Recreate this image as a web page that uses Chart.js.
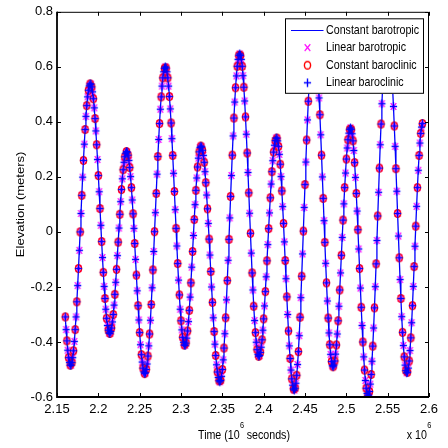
<!DOCTYPE html>
<html>
<head>
<meta charset="utf-8">
<title>Elevation</title>
<script src="https://cdn.jsdelivr.net/npm/chart.js@4.4.1/dist/chart.umd.min.js"></script>
<style>
  html, body { margin: 0; padding: 0; background: #fff; }
  #wrap { width: 448px; height: 448px; }
</style>
</head>
<body>
<div id="wrap"><canvas id="elevChart" width="448" height="448"></canvas></div>
<script>
// water level at the station, one sample every 1000 s from t = 2.160e6 s
const timeStart = 2.160;  // x 10^6 s
const timeStep = 0.001;   // x 10^6 s
const elevation = [
  -0.309, -0.355, -0.396, -0.430, -0.457, -0.475, -0.484,
  -0.484, -0.475, -0.457, -0.432, -0.398, -0.355, -0.309, -0.254, -0.195, -0.133, -0.067, 0.000,
  0.067, 0.133, 0.199, 0.260, 0.319, 0.372, 0.420, 0.459, 0.491, 0.515, 0.531, 0.538,
  0.537, 0.527, 0.509, 0.484, 0.451, 0.412, 0.367, 0.317, 0.263, 0.205, 0.146, 0.085,
  0.024, -0.035, -0.093, -0.147, -0.198, -0.242, -0.281, -0.314, -0.340, -0.357, -0.367,
  -0.369, -0.362, -0.349, -0.327, -0.300, -0.266, -0.227, -0.183, -0.136, -0.086, -0.037,
  0.014, 0.064, 0.110, 0.154, 0.193, 0.226, 0.253, 0.273, 0.286, 0.292,
  0.290, 0.279, 0.260, 0.234, 0.201, 0.161, 0.116, 0.066, 0.013, -0.042, -0.100,
  -0.157, -0.214, -0.268, -0.320, -0.366, -0.410, -0.446, -0.473, -0.495, -0.509, -0.515,
  -0.512, -0.500, -0.480, -0.451, -0.414, -0.371, -0.321, -0.264, -0.203, -0.138, -0.071, 0.001,
  0.070, 0.140, 0.210, 0.274, 0.336, 0.394, 0.446, 0.491, 0.530, 0.560, 0.582, 0.595, 0.600,
  0.596, 0.582, 0.560, 0.530, 0.492, 0.447, 0.396, 0.339, 0.278, 0.213, 0.147, 0.081,
  0.013, -0.051, -0.115, -0.175, -0.229, -0.281, -0.323, -0.356, -0.383, -0.401, -0.411,
  -0.412, -0.404, -0.386, -0.360, -0.326, -0.285, -0.237, -0.185, -0.128, -0.071,
  -0.013, 0.045, 0.099, 0.151, 0.196, 0.236, 0.268, 0.291, 0.307, 0.312,
  0.309, 0.297, 0.278, 0.253, 0.219, 0.179, 0.134, 0.084, 0.031, -0.026, -0.084, -0.144,
  -0.200, -0.256, -0.312, -0.362, -0.408, -0.449, -0.483, -0.509, -0.529, -0.541, -0.545,
  -0.540, -0.525, -0.500, -0.465, -0.422, -0.370, -0.312, -0.247, -0.177, -0.103, -0.027, 0.051,
  0.129, 0.205, 0.279, 0.349, 0.414, 0.472, 0.524, 0.567, 0.602, 0.627, 0.642, 0.647,
  0.642, 0.627, 0.602, 0.568, 0.526, 0.476, 0.418, 0.355, 0.287, 0.216, 0.142, 0.068,
  -0.005, -0.077, -0.149, -0.211, -0.270, -0.322, -0.366, -0.401, -0.428, -0.445, -0.452,
  -0.449, -0.438, -0.419, -0.392, -0.357, -0.316, -0.269, -0.217, -0.163, -0.105, -0.046,
  0.012, 0.069, 0.124, 0.174, 0.219, 0.259, 0.290, 0.315, 0.332, 0.341,
  0.341, 0.331, 0.311, 0.282, 0.246, 0.201, 0.149, 0.092, 0.031, -0.036, -0.104,
  -0.170, -0.236, -0.300, -0.360, -0.414, -0.460, -0.502, -0.534, -0.557, -0.571, -0.575,
  -0.568, -0.550, -0.521, -0.482, -0.435, -0.377, -0.310, -0.239, -0.161, -0.080, 0.003,
  0.089, 0.172, 0.254, 0.334, 0.407, 0.475, 0.537, 0.592, 0.632, 0.666, 0.687, 0.699,
  0.699, 0.688, 0.667, 0.635, 0.594, 0.546, 0.487, 0.426, 0.353, 0.279, 0.200, 0.122,
  0.041, -0.038, -0.114, -0.185, -0.251, -0.313, -0.367, -0.410, -0.445, -0.471, -0.486,
  -0.490, -0.484, -0.469, -0.444, -0.411, -0.371, -0.323, -0.270, -0.211, -0.149, -0.085,
  -0.020, 0.043, 0.102, 0.161, 0.214, 0.265, 0.305, 0.335, 0.359, 0.373, 0.378,
  0.373, 0.357, 0.331, 0.296, 0.252, 0.198, 0.140, 0.076, 0.008, -0.062,
  -0.133, -0.204, -0.274, -0.340, -0.400, -0.454, -0.502, -0.540, -0.568, -0.587, -0.596,
  -0.593, -0.580, -0.553, -0.518, -0.470, -0.415, -0.349, -0.276, -0.199, -0.116, -0.031,
  0.058, 0.144, 0.232, 0.317, 0.392, 0.466, 0.531, 0.588, 0.636, 0.674, 0.701, 0.716,
  0.720, 0.712, 0.694, 0.665, 0.625, 0.578, 0.520, 0.456, 0.385, 0.311, 0.230, 0.148,
  0.067, -0.015, -0.094, -0.173, -0.242, -0.308, -0.365, -0.413, -0.454, -0.484, -0.504, -0.512,
  -0.510, -0.495, -0.469, -0.431, -0.385, -0.330, -0.268, -0.198, -0.126, -0.052,
  0.021, 0.093, 0.161, 0.224, 0.278, 0.323, 0.358, 0.381, 0.394
];
const baroclinicEvery = 2;  // baroclinic runs wrote every second sample

const xTicks = [2.15, 2.2, 2.25, 2.3, 2.35, 2.4, 2.45, 2.5, 2.55, 2.6];
const xTickLabels = ["2.15", "2.2", "2.25", "2.3", "2.35", "2.4", "2.45", "2.5", "2.55", "2.6"];
const yTicks = [-0.6, -0.4, -0.2, 0, 0.2, 0.4, 0.6, 0.8];
const yTickLabels = ["-0.6", "-0.4", "-0.2", "0", "0.2", "0.4", "0.6", "0.8"];
const seriesNames = ["Constant barotropic", "Linear barotropic", "Constant baroclinic", "Linear baroclinic"];

const SANS = "'Liberation Sans', Arial, sans-serif";
const NARROW = "'Liberation Sans Narrow', 'Arial Narrow', 'Liberation Sans', sans-serif";
const SQUASH = 0.82;  // figure text is drawn horizontally condensed
const TICK = 4;

const points = elevation.map((v, i) => ({ x: Number((timeStart + i * timeStep).toFixed(3)), y: v }));
const everyOther = points.filter((p, i) => i % baroclinicEvery === 0);

// small bitmap markers, slightly taller than wide
function markerImage(w, h, paint) {
    const c = document.createElement("canvas");
    c.width = w;
    c.height = h;
    paint(c.getContext("2d"), w / 2, h / 2);
    return c;
}
const ringMark = markerImage(11, 11, (g, cx, cy) => {
    g.strokeStyle = "#ff0000";
    g.lineWidth = 1.4;
    g.beginPath();
    g.ellipse(cx, cy, 3.1, 3.8, 0, 0, Math.PI * 2);
    g.stroke();
});
const plusMark = markerImage(11, 11, (g, cx, cy) => {
    g.strokeStyle = "#0000ff";
    g.lineWidth = 1.4;
    g.beginPath();
    g.moveTo(cx - 3.6, cy); g.lineTo(cx + 3.6, cy);
    g.moveTo(cx, cy - 4.2); g.lineTo(cx, cy + 4.2);
    g.stroke();
});
const crossMark = markerImage(11, 11, (g, cx, cy) => {
    g.strokeStyle = "#ff00ff";
    g.lineWidth = 1.3;
    g.beginPath();
    g.moveTo(cx - 2.8, cy - 3.3); g.lineTo(cx + 2.8, cy + 3.3);
    g.moveTo(cx - 2.8, cy + 3.3); g.lineTo(cx + 2.8, cy - 3.3);
    g.stroke();
});

// -- box with inward ticks on all four sides
const axesBox = {
    id: "axesBox",
    afterDatasetsDraw(chart) {
        const { ctx, chartArea: a, scales: { x, y } } = chart;
        ctx.save();
        ctx.strokeStyle = "#000";
        ctx.lineWidth = 1;
        ctx.beginPath();
        xTicks.forEach(v => {
            const px = Math.round(x.getPixelForValue(v)) + 0.5;
            ctx.moveTo(px, a.bottom); ctx.lineTo(px, a.bottom - TICK);
            ctx.moveTo(px, a.top); ctx.lineTo(px, a.top + TICK);
        });
        yTicks.forEach(v => {
            const py = Math.round(y.getPixelForValue(v)) + 0.5;
            ctx.moveTo(a.left, py); ctx.lineTo(a.left + TICK, py);
            ctx.moveTo(a.right, py); ctx.lineTo(a.right - TICK, py);
        });
        ctx.stroke();
        ctx.beginPath();
        ctx.moveTo(a.left, a.top + 0.5); ctx.lineTo(a.right - 0.5, a.top + 0.5);
        ctx.lineTo(a.right - 0.5, a.bottom);
        ctx.stroke();
        ctx.lineWidth = 1.8;
        ctx.beginPath();
        ctx.moveTo(a.left, a.top); ctx.lineTo(a.left, a.bottom); ctx.lineTo(a.right, a.bottom);
        ctx.stroke();
        ctx.restore();
    }
};

// -- legend box in the top right corner of the plot
const legendBox = {
    id: "legendBox",
    afterDraw(chart) {
        const { ctx, chartArea: a } = chart;
        const right = a.right - 5, top = a.top + 6.5;
        const left = right - 139, bottom = top + 75.5;
        ctx.save();
        ctx.fillStyle = "#fff";
        ctx.fillRect(left, top, right - left, bottom - top);
        ctx.strokeStyle = "#000";
        ctx.lineWidth = 1;
        ctx.strokeRect(left + 0.5, top + 0.5, right - left - 1, bottom - top - 1);
        const marks = [null, crossMark, ringMark, plusMark];
        seriesNames.forEach((name, i) => {
            const cy = top + 11.7 + 17.6 * i;
            if (i === 0) {
                ctx.strokeStyle = "#0000ff";
                ctx.lineWidth = 1.2;
                ctx.beginPath();
                ctx.moveTo(left + 6, cy + 0.5); ctx.lineTo(left + 38.5, cy + 0.5);
                ctx.stroke();
            } else {
                const m = marks[i];
                ctx.drawImage(m, left + 22.5 - m.width / 2, cy - m.height / 2);
            }
            ctx.save();
            ctx.translate(left + 41, cy);
            ctx.scale(SQUASH, 1);
            ctx.fillStyle = "#000";
            ctx.font = "13px " + SANS;
            ctx.textBaseline = "middle";
            ctx.fillText(name, 0, 0);
            ctx.restore();
        });
        ctx.restore();
    }
};

// -- axis titles and the x10^6 multiplier
const axisTitles = {
    id: "axisTitles",
    afterDraw(chart) {
        const { ctx, chartArea: a } = chart;
        ctx.save();
        ctx.fillStyle = "#000";
        ctx.textBaseline = "alphabetic";

        const big = "13px " + SANS, small = "9px " + SANS;
        ctx.font = big;
        const w1 = ctx.measureText("Time (10").width;
        const w3 = ctx.measureText(" seconds)").width;
        ctx.font = small;
        const w2 = ctx.measureText("6").width;
        const total = (w1 + w2 + w3) * SQUASH;
        const cx = (a.left + a.right) / 2 + 1;
        ctx.save();
        ctx.translate(cx - total / 2, 438.5);
        ctx.scale(SQUASH, 1);
        ctx.font = big;
        ctx.fillText("Time (10", 0, 0);
        ctx.font = small;
        ctx.fillText("6", w1 + 0.5, -10.5);
        ctx.font = big;
        ctx.fillText(" seconds)", w1 + w2, 0);
        ctx.restore();

        ctx.save();
        ctx.font = small;
        const e = ctx.measureText("6").width;
        ctx.font = big;
        const b = ctx.measureText("x 10").width;
        ctx.translate(a.right + 2 - (b + e) * SQUASH, 438.5);
        ctx.scale(SQUASH, 1);
        ctx.fillText("x 10", 0, 0);
        ctx.font = small;
        ctx.fillText("6", b + 0.5, -10.5);
        ctx.restore();

        ctx.save();
        ctx.translate(21, (a.top + a.bottom) / 2);
        ctx.rotate(-Math.PI / 2);
        ctx.scale(1, SQUASH);
        ctx.font = big;
        ctx.textAlign = "center";
        ctx.textBaseline = "middle";
        ctx.fillText("Elevation (meters)", 0, 0);
        ctx.restore();
        ctx.restore();
    }
};

const tickFont = { family: NARROW, size: 13 };

new Chart(document.getElementById("elevChart"), {
    type: "scatter",
    data: {
        datasets: [
            {
                label: seriesNames[3], data: points, order: 1,
                pointStyle: plusMark, pointRadius: 3, showLine: false
            },
            {
                label: seriesNames[2], data: everyOther, order: 2,
                pointStyle: ringMark, pointRadius: 3, showLine: false
            },
            {
                label: seriesNames[1], data: points, order: 3,
                pointStyle: crossMark, pointRadius: 3, showLine: false
            },
            {
                label: seriesNames[0], data: points, order: 4,
                showLine: true, borderColor: "#0000ff", borderWidth: 1.3,
                pointRadius: 0, tension: 0
            }
        ]
    },
    options: {
        responsive: false,
        devicePixelRatio: 1,
        animation: false,
        events: [],
        layout: { padding: { top: 8, right: 19, left: 0, bottom: 0 } },
        plugins: { legend: { display: false }, tooltip: { enabled: false } },
        scales: {
            x: {
                type: "linear", min: 2.15, max: 2.6,
                afterBuildTicks: s => { s.ticks = xTicks.map(v => ({ value: v })); },
                afterFit: s => { s.height = 51; },
                grid: { display: false, drawTicks: false },
                border: { display: false },
                ticks: {
                    callback: (v, i) => xTickLabels[i],
                    font: tickFont, color: "#000", padding: 5,
                    maxRotation: 0, autoSkip: false
                }
            },
            y: {
                type: "linear", min: -0.6, max: 0.8,
                afterBuildTicks: s => { s.ticks = yTicks.map(v => ({ value: v })); },
                afterFit: s => { s.width = 57; },
                grid: { display: false, drawTicks: false },
                border: { display: false },
                ticks: {
                    callback: (v, i) => yTickLabels[i],
                    font: tickFont, color: "#000", padding: 4, autoSkip: false
                }
            }
        }
    },
    plugins: [axesBox, legendBox, axisTitles]
});
</script>
</body>
</html>
